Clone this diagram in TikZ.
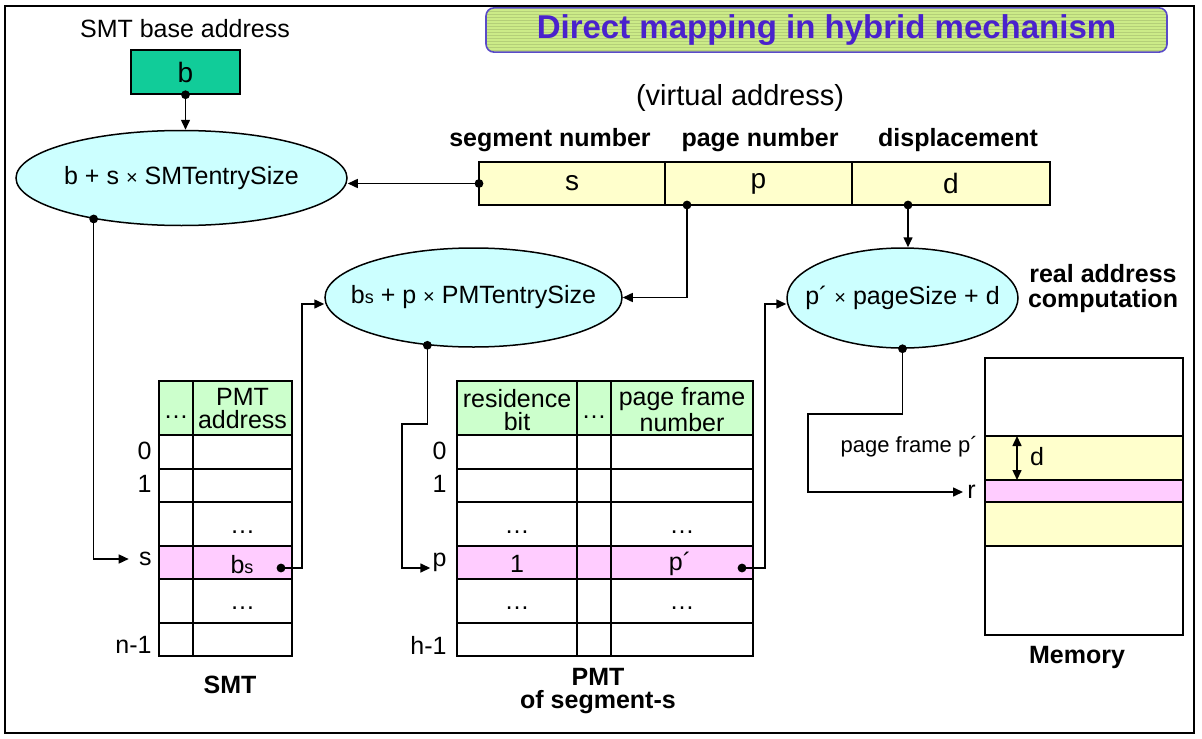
\documentclass[tikz,border=0pt]{standalone}
\usepackage{fontspec}
\setmainfont{Liberation Sans}
\usetikzlibrary{arrows.meta,positioning,shapes.geometric,calc}

\definecolor{tealbox}{HTML}{11CC99}
\definecolor{ellfill}{HTML}{CCFFFF}
\definecolor{addrfill}{HTML}{FFFFCC}
\definecolor{headfill}{HTML}{CCFFCC}
\definecolor{pinkfill}{HTML}{FFCCFF}
\definecolor{titlefill}{HTML}{CCEB88}
\definecolor{titletext}{HTML}{4A22CC}
\definecolor{titleline}{HTML}{5A4BC8}

\newcommand{\mul}{{\fontsize{10}{12}\selectfont ×}}
\newcommand{\bsub}{b{\fontsize{9}{10}\selectfont s}}

\tikzset{ptr/.tip={Stealth[length=5pt,width=4.5pt,inset=0pt]}}

\begin{document}
\begin{tikzpicture}[x=0.5pt, y=-0.5pt,
  txt/.style={inner sep=0pt, font=\fontsize{12.5}{14}\selectfont},
  bold/.style={inner sep=0pt, align=center, font=\fontsize{12.5}{12.5}\selectfont\bfseries},
  head/.style={inner sep=0pt, align=center, font=\fontsize{12.5}{11.5}\selectfont},
  compute/.style={ellipse, draw, fill=ellfill, line width=0.75pt, inner sep=0pt,
    font=\fontsize{12.5}{14}\selectfont},
  field/.style={draw, fill=addrfill, line width=0.75pt, inner sep=0pt, outer sep=0pt,
    minimum height=21.5pt, font=\fontsize{14}{16}\selectfont},
  titlebox/.style={draw=titleline, line width=0.8pt, rounded corners=4pt, fill=titlefill,
    minimum width=340.5pt, minimum height=22pt, text=titletext,
    font=\fontsize{16.5}{18}\selectfont\bfseries,
    path picture={\foreach \k in {1,...,14}
      \draw[titlefill!88!black, line width=0.25pt]
        ([yshift={-1.5pt*\k}]path picture bounding box.north west) --
        ([yshift={-1.5pt*\k}]path picture bounding box.north east);}},
  tabline/.style={line width=0.8pt},
  link/.style={-ptr, line width=0.75pt}]
  \useasboundingbox (0,0) rectangle (1202,738);
  \draw[line width=1pt] (5,6) rectangle (1194,733);

  % heading
  \node[titlebox] (title) at (826.5,30) {Direct mapping in hybrid mechanism};

  % SMT base register
  \node[txt] (smtbase) at (185,29) {SMT base address};
  \node[draw, fill=tealbox, line width=0.75pt, inner sep=0pt, minimum width=54.5pt,
    minimum height=22pt, font=\fontsize{14}{16}\selectfont] (base) at (185.5,72) {b};

  % virtual address
  \node[txt, font=\fontsize{14.5}{16}\selectfont] (virtual) at (740,98) {(virtual address)};
  \node[field, minimum width=93pt] (sfield) at (572,183.5) {s};
  \node[field, minimum width=93.5pt, right=0pt of sfield] (pfield) {p};
  \node[field, minimum width=99pt, right=0pt of pfield] (dfield) {d};
  \node[bold] (segname) at (550,140) {segment number};
  \node[bold] (pagename) at (760,140) {page number};
  \node[bold] (dispname) at (958,140) {displacement};

  % address computations
  \node[compute, minimum width=165.5pt, minimum height=47.5pt] (smtcalc) at (181.5,178)
    {\makebox[0pt]{b + s \mul\ SMTentrySize}};
  \node[compute, minimum width=148.5pt, minimum height=49.5pt] (pmtcalc) at (473.5,297.5)
    {\makebox[0pt]{\bsub\ + p \mul\ PMTentrySize}};
  \node[compute, minimum width=115.5pt, minimum height=50pt] (pagecalc) at (902.5,298)
    {\makebox[0pt]{p´ \mul\ pageSize + d}};
  \node[bold] (realaddr) at (1103,289) {real address\\computation};

  % SMT
  \fill[headfill] (159,381) rectangle (292,435);
  \fill[pinkfill] (159,546) rectangle (292,579);
  \foreach \y in {435,469,502,546,579,623}
    \draw[tabline] (159,\y) -- (292,\y);
  \draw[tabline] (159,381) rectangle (292,656) (193,381) -- (193,656);
  \node[txt] (smtdots) at (176,417) {…};
  \node[head] (smtaddr) at (242.5,409) {PMT\\address};
  \node[txt] (smtmid) at (242.5,532) {…};
  \node[txt] (smtbs) at (242,565) {\bsub};
  \node[txt] (smtlow) at (242.5,608) {…};
  \node[txt, anchor=east] (smt0) at (152,451) {0};
  \node[txt, anchor=east] (smt1) at (152,484) {1};
  \node[txt, anchor=east] (smts) at (152,559) {s};
  \node[txt, anchor=east] (smtn) at (152,645) {n-1};
  \node[bold] (smtname) at (230,685) {SMT};

  % PMT
  \fill[headfill] (457,381) rectangle (753,435);
  \fill[pinkfill] (457,546) rectangle (753,579);
  \foreach \y in {435,469,502,546,579,623}
    \draw[tabline] (457,\y) -- (753,\y);
  \draw[tabline] (457,381) rectangle (753,656) (577,381) -- (577,656) (611,381) -- (611,656);
  \node[head] (resbit) at (517,410) {residence\\bit};
  \node[txt] (pmtdots) at (594,417) {…};
  \node[head] (frameno) at (682,409.5) {page frame\\number};
  \node[txt] (resmid) at (517,532) {…};
  \node[txt] (framemid) at (682,532) {…};
  \node[txt] (resone) at (517,564) {1};
  \node[txt] (framep) at (680,564) {p´};
  \node[txt] (reslow) at (517,608) {…};
  \node[txt] (framelow) at (682,608) {…};
  \node[txt, anchor=east] (pmt0) at (447,451) {0};
  \node[txt, anchor=east] (pmt1) at (447,484) {1};
  \node[txt, anchor=east] (pmtp) at (447,562) {p};
  \node[txt, anchor=east] (pmth) at (447,645) {h-1};
  \node[bold, font=\fontsize{12.5}{11.5}\selectfont\bfseries] (pmtname) at (598,691) {PMT\\of segment-s};

  % memory
  \fill[addrfill] (985,436) rectangle (1183,546);
  \fill[pinkfill] (985,480) rectangle (1183,502);
  \foreach \y in {436,480,502,546}
    \draw[tabline] (985,\y) -- (1183,\y);
  \node[draw, tabline, inner sep=0pt, outer sep=0pt, minimum width=99pt,
    minimum height=138.5pt] (mem) at (1084,496.5) {};
  \coordinate (offtop) at (1017,436);
  \coordinate (offend) at (1017,480);
  \draw[ptr-ptr, line width=0.75pt] (offtop) -- (offend);
  \node[txt] (offd) at (1037,457) {d};
  \node[txt, anchor=east, font=\fontsize{11}{13}\selectfont] (framelbl) at (978,447) {page frame p´};
  \node[txt, anchor=west] (memr) at (967,492) {r};
  \node[bold] (memname) at (1077,657) {Memory};

  % connectors
  \coordinate (smtdot) at (smtcalc.205);
  \coordinate (bsdot) at (281,568);
  \coordinate (pdot) at ([xshift=11pt]pfield.south west);
  \coordinate (ddot) at ([xshift=28pt]dfield.south west);
  \coordinate (pmtdot) at (pmtcalc.226);
  \coordinate (pfdot) at (742,568);
  \coordinate (smtturn) at (302,304);
  \coordinate (pmtturn) at (402,424);
  \coordinate (pfturn) at (765,304);
  \coordinate (memturn) at (808,414);
  \draw[link] (base.south) -- (base.south |- smtcalc.north);
  \draw[link] (sfield.west) -- (sfield.west -| smtcalc.east);
  \draw[link] (pdot) |- (pmtcalc.east);
  \draw[link] (ddot) -- (ddot |- pagecalc.north);
  \draw[link, shorten >=5pt] (smtdot) |- (smts.west);
  \draw[link] (bsdot) -| (smtturn) -- (smtturn -| pmtcalc.west);
  \draw[link, shorten >=1pt] (pmtdot) |- (pmtturn) |- ([yshift=-3pt]pmtp.west);
  \draw[link] (pfdot) -| (pfturn) -- (pfturn -| pagecalc.west);
  \draw[link, shorten >=2pt] (pagecalc.south) |- (memturn) |- (memr.west);
  \foreach \d in {base.south, sfield.west, pdot, ddot, smtdot, bsdot, pmtdot, pfdot, pagecalc.south}
    \fill (\d) circle[radius=2.2pt];
\end{tikzpicture}
\end{document}
